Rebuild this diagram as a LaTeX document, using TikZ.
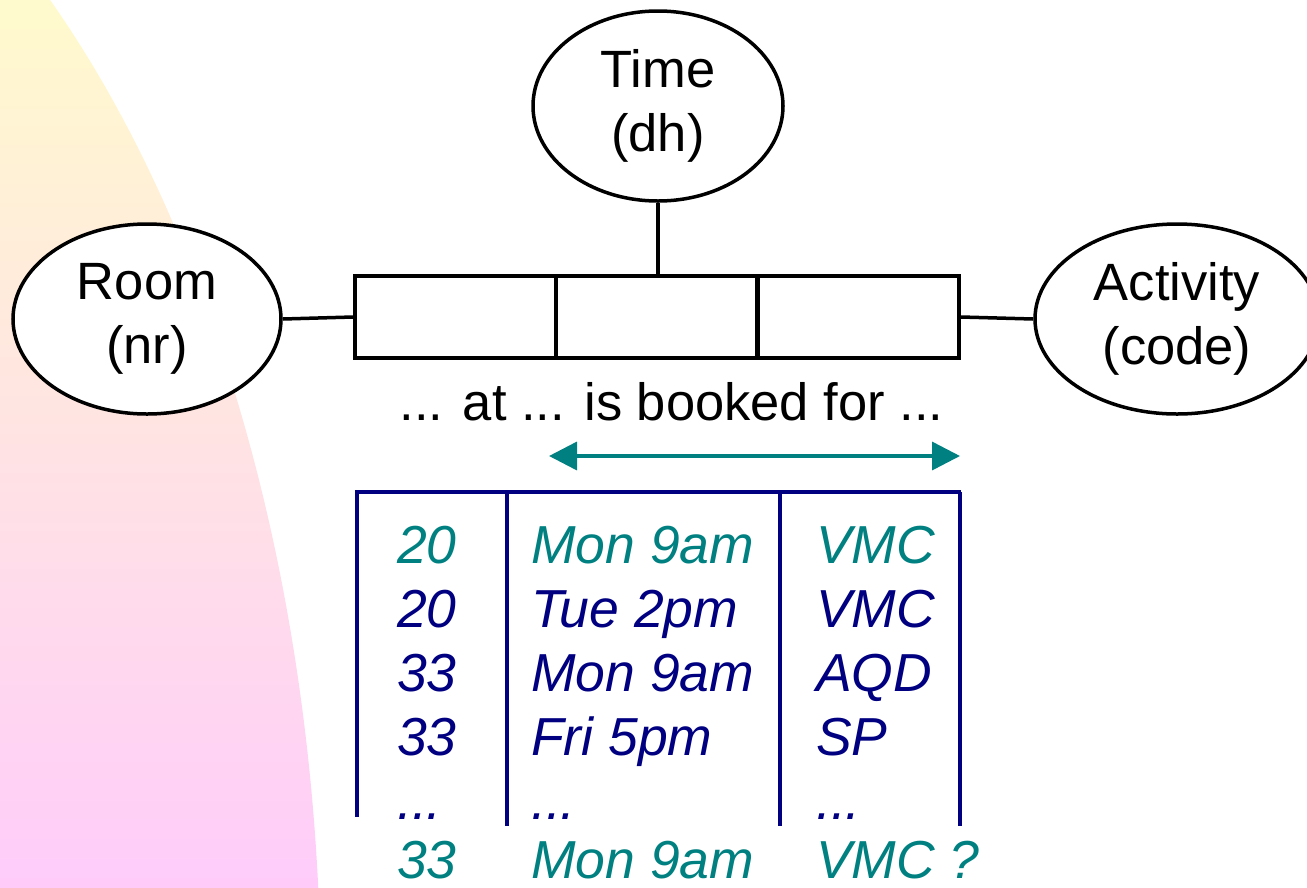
\documentclass[tikz,border=0pt]{standalone}
\usepackage{fontspec}
\setmainfont{Liberation Sans}
\usetikzlibrary{shapes.geometric,arrows.meta}

\definecolor{tealc}{RGB}{0,128,128}
\definecolor{navyc}{RGB}{0,0,128}
\definecolor{bgtop}{RGB}{255,250,205}
\definecolor{bgbot}{RGB}{255,204,250}

\newcommand\dgfont{\fontsize{52.5}{64}\selectfont}
\newcommand\tabfont{\fontsize{53.5}{64}\selectfont}

\begin{document}
\begin{tikzpicture}[x=1pt,y=-1pt,
  entity/.style={ellipse,draw=black,line width=3.5pt,fill=white,
    minimum height=190pt,inner sep=0pt,align=center,font=\dgfont},
  cell/.style={rectangle,draw=black,line width=4pt,minimum width=201pt,
    minimum height=82pt,inner sep=0pt},
  link/.style={draw=black,line width=3.5pt},
  grid/.style={draw=navyc,line width=3.5pt},
  entry/.style={anchor=base west,inner sep=0pt,text depth=0pt,
    font=\tabfont\itshape},
  hi/.style={entry,text=tealc},
  lo/.style={entry,text=navyc},
  span/.style={draw=tealc,line width=3.5pt,
    {Triangle[length=28pt,width=28pt]}-{Triangle[length=28pt,width=28pt]}}
]
\useasboundingbox (0,0) rectangle (1307,887);

% background band on the left
\begin{scope}
  \clip (0,0) rectangle (1307,887);
  \clip (-400,1000) ellipse [x radius=721, y radius=1280];
  \shade[top color=bgtop,bottom color=bgbot] (0,0) rectangle (400,887);
\end{scope}

% fact type: three role boxes
\node[cell] (c1) at (455.5,317) {};
\node[cell] (c2) at (656.5,317) {};
\node[cell] (c3) at (858.5,317) {};

% object types
\node[entity,minimum width=250pt] (time) at (658,106) {Time\\(dh)};
\node[entity,minimum width=268pt] (room) at (147,319) {Room\\(nr)};
\node[entity,minimum width=284pt] (act) at (1177,319) {Activity\\(code)};

\draw[link] (room.east) -- (c1.west);
\draw[link] (c3.east) -- (act.west);
\draw[link] (time.south) -- (time.south |- c2.north);

% reading
\node[anchor=base,inner sep=0pt,font=\dgfont] (reading) at (671.5,420)
  {... at ... is booked for ...};

% uniqueness span
\coordinate (u1) at (549,456);
\coordinate (u2) at (960,456);
\draw[span] (u1) -- (u2);

% population table
\coordinate (t0) at (355,492);
\coordinate (t1) at (507,492);
\coordinate (t2) at (780,492);
\coordinate (t3) at (961,492);
\coordinate (b0) at (357,817);
\coordinate (b1) at (507,826);
\coordinate (b2) at (780,826);
\coordinate (b3) at (960,826);
\draw[grid] (t0) -- (t3);
\draw[grid] (t0 -| b0) -- (b0);
\draw[grid] (t1) -- (b1);
\draw[grid] (t2) -- (b2);
\draw[grid] (t3 -| b3) -- (b3);

\node[hi] (r1a) at (397,563) {20};
\node[hi] (r1b) at (531,563) {Mon 9am};
\node[hi] (r1c) at (816,563) {VMC};

\node[lo] (r2a) at (397,627) {20};
\node[lo] (r2b) at (531,627) {Tue 2pm};
\node[lo] (r2c) at (816,627) {VMC};

\node[lo] (r3a) at (397,691) {33};
\node[lo] (r3b) at (531,691) {Mon 9am};
\node[lo] (r3c) at (816,691) {AQD};

\node[lo] (r4a) at (397,755) {33};
\node[lo] (r4b) at (531,755) {Fri 5pm};
\node[lo] (r4c) at (816,755) {SP};

\node[lo] (r5a) at (397,819) {...};
\node[lo] (r5b) at (531,819) {...};
\node[lo] (r5c) at (816,819) {...};

\node[hi] (r6a) at (397,878) {33};
\node[hi] (r6b) at (531,878) {Mon 9am};
\node[hi] (r6c) at (816,878) {VMC ?};
\end{tikzpicture}
\end{document}
